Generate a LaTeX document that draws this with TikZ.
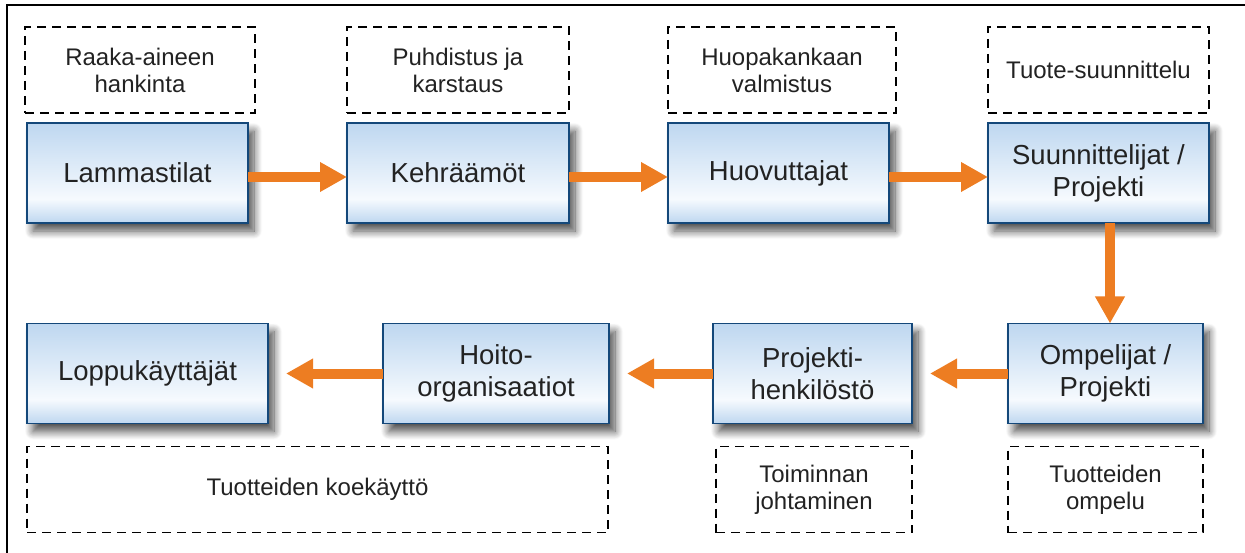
\documentclass[tikz,border=0pt]{standalone}
\usepackage{fontspec}
\setmainfont{Liberation Sans}
\usepackage{xcolor}
\usepackage{tikz}
\usetikzlibrary{arrows.meta,shadows.blur}
\definecolor{boxblue}{RGB}{190,215,240}
\definecolor{boxwhite}{RGB}{246,250,254}
\definecolor{boxline}{RGB}{20,72,122}
\definecolor{flowor}{RGB}{237,125,34}
\definecolor{inkgray}{RGB}{34,34,34}
\pgfdeclareverticalshading{boxfill}{100bp}{color(0bp)=(boxblue); color(25bp)=(boxblue); color(37bp)=(boxwhite); color(75bp)=(boxblue); color(100bp)=(boxblue)}
\tikzset{
	every node/.style={outer sep=0pt,inner sep=2pt,text=inkgray,align=center},
	actor/.style={rectangle,draw=boxline,line width=1.8pt,shading=boxfill,minimum height=100pt,
		font=\fontsize{27.5}{32}\selectfont,
		blur shadow={shadow xshift=6pt,shadow yshift=-8pt,shadow blur radius=8pt,shadow blur steps=12,shadow opacity=70}},
	task/.style={rectangle,draw=black,line width=1.8pt,dash pattern=on 9pt off 6pt,minimum height=86pt,
		font=\fontsize{24}{27}\selectfont},
	flow/.style={draw=flowor,line width=10pt,arrows={-{Triangle[length=27pt,width=28pt]}}},
	gapflow/.style={flow,shorten >=18pt}
	}
\begin{document}
\begin{tikzpicture}[x=1pt,y=-1pt]
	\useasboundingbox (0,0) rectangle (1245,553);
	\draw[line width=2pt] (7,553) -- (7,5) -- (1245,5);

	\node[task,minimum width=230pt] (raaka) at (140,70) {Raaka-aineen\\hankinta};
	\node[task,minimum width=222pt] (puhd) at (458,70) {Puhdistus ja\\karstaus};
	\node[task,minimum width=228pt] (huopa) at (782,70) {Huopakankaan\\valmistus};
	\node[task,minimum width=221pt] (tuote) at (1098.5,70) {Tuote-suunnittelu};

	\node[actor,minimum width=221pt] (lamm) at (137.5,173) {Lammastilat};
	\node[actor,minimum width=222pt] (kehr) at (458,173) {Kehräämöt};
	\node[actor,minimum width=221pt] (huov) at (778.5,173) {Huovuttajat};
	\node[actor,minimum width=221pt] (suun) at (1098.5,173) {Suunnittelijat /\\Projekti};

	\node[actor,minimum width=195pt] (omp) at (1105.5,373.5) {Ompelijat /\\Projekti};
	\node[actor,minimum width=199pt] (proj) at (812.5,373.5) {Projekti-\\henkilöstö};
	\node[actor,minimum width=226pt] (hoito) at (496,373.5) {Hoito-\\organisaatiot};
	\node[actor,minimum width=241pt] (loppu) at (147.5,373.5) {Loppukäyttäjät};

	\node[task,minimum width=581pt] (koe) at (317.5,489.5) {Tuotteiden koekäyttö};
	\node[task,minimum width=196pt] (toim) at (814,489.5) {Toiminnan\\johtaminen};
	\node[task,minimum width=195pt] (ompelu) at (1105.5,489.5) {Tuotteiden\\ompelu};

	\coordinate (vx) at (1110,0);
	\draw[flow] ([yshift=-4pt]lamm.east) -- ([yshift=-4pt]kehr.west);
	\draw[flow] ([yshift=-4pt]kehr.east) -- ([yshift=-4pt]huov.west);
	\draw[flow] ([yshift=-4pt]huov.east) -- ([yshift=-4pt]suun.west);
	\draw[flow] (suun.south -| vx) -- (omp.north -| vx);
	\draw[gapflow] (omp.west) -- (proj.east);
	\draw[gapflow] (proj.west) -- (hoito.east);
	\draw[gapflow] (hoito.west) -- (loppu.east);
\end{tikzpicture}
\end{document}
